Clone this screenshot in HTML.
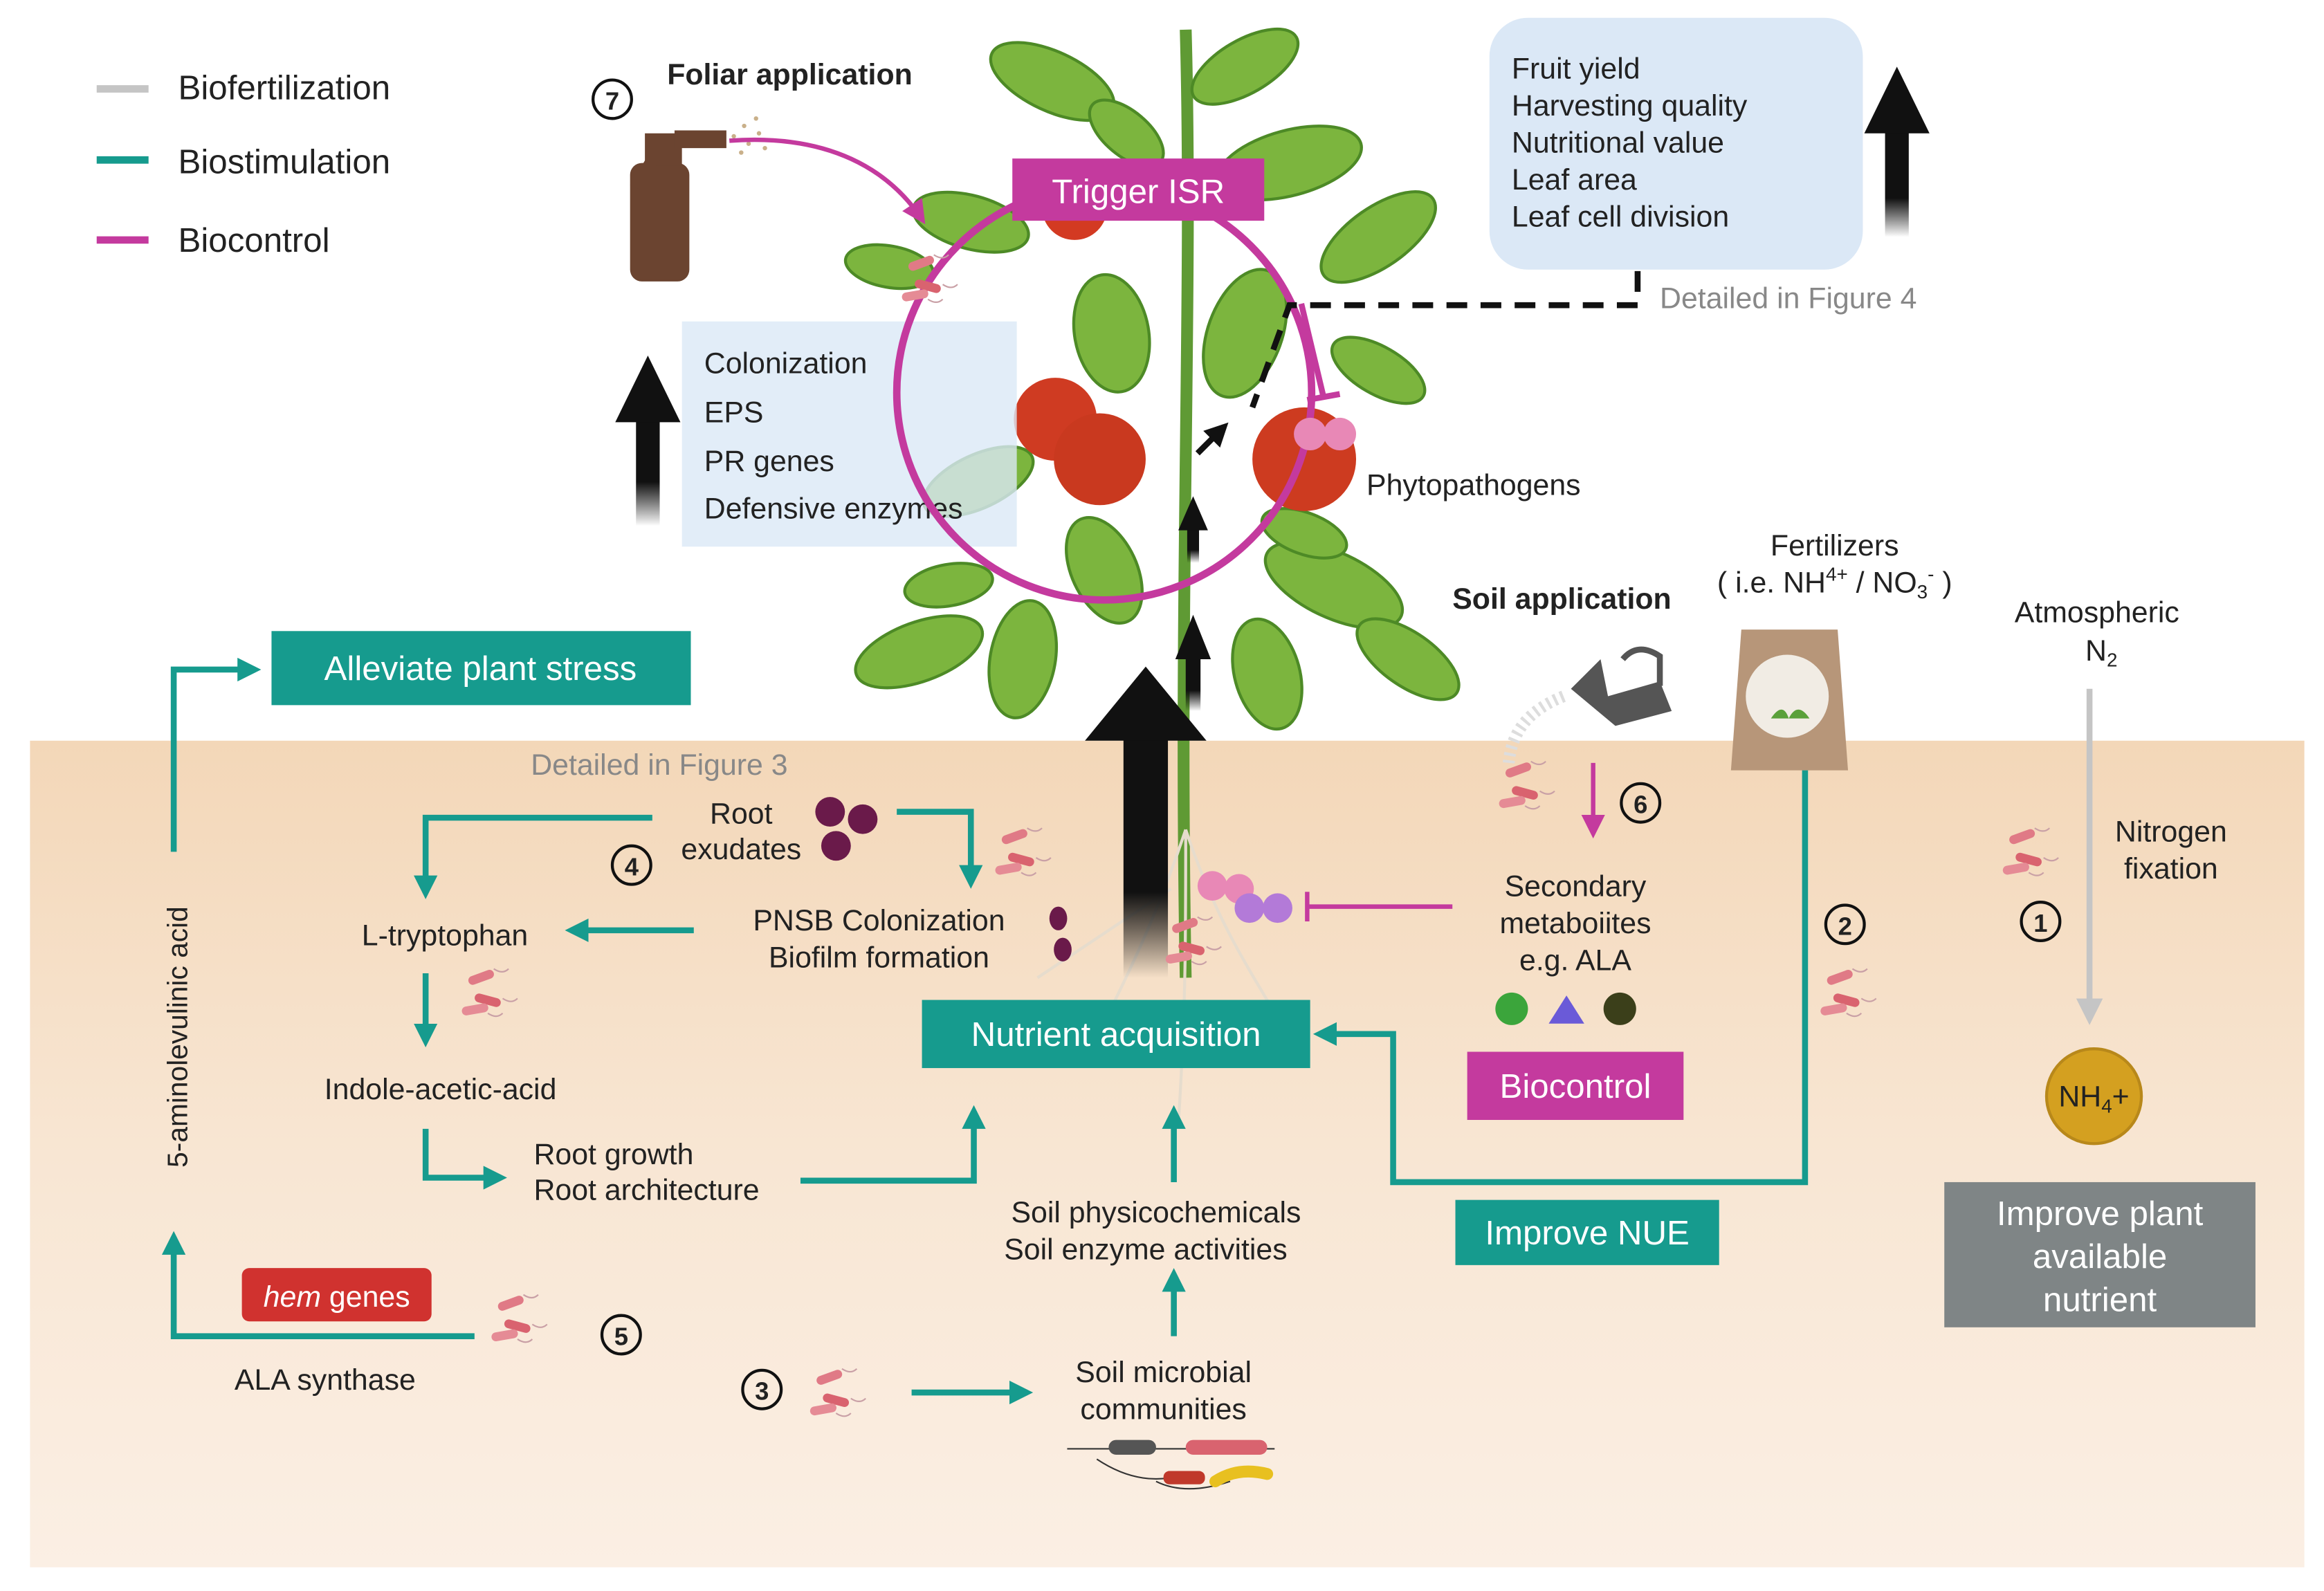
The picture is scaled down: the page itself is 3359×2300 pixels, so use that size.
<!DOCTYPE html>
<html><head><meta charset="utf-8"><style>
html,body{margin:0;padding:0;background:#fff}
svg{display:block}
text{font-family:"Liberation Sans",sans-serif;fill:#222}
</style></head><body>
<svg width="3359" height="2300" viewBox="0 0 1568 1074" xmlns="http://www.w3.org/2000/svg">
<defs>
<linearGradient id="soil" x1="0" y1="0" x2="0" y2="1">
<stop offset="0" stop-color="#f3d7b8"/><stop offset="0.5" stop-color="#f8e6d3"/><stop offset="1" stop-color="#fbefe4"/></linearGradient>
<linearGradient id="blk" x1="0" y1="1" x2="0" y2="0">
<stop offset="0" stop-color="#000" stop-opacity="0"/><stop offset="0.35" stop-color="#111"/><stop offset="1" stop-color="#111"/></linearGradient>
<marker id="tb" markerWidth="16" markerHeight="16" refX="12" refY="8" orient="auto" markerUnits="userSpaceOnUse"><path d="M0,0 L16,8 L0,16 z" fill="#169b8e"/></marker>
<marker id="ma" markerWidth="16" markerHeight="16" refX="12" refY="8" orient="auto" markerUnits="userSpaceOnUse"><path d="M0,0 L16,8 L0,16 z" fill="#c43a9e"/></marker>
<marker id="ga" markerWidth="18" markerHeight="18" refX="14" refY="9" orient="auto" markerUnits="userSpaceOnUse"><path d="M0,0 L18,9 L0,18 z" fill="#c5c5c5"/></marker>
<marker id="ka" markerWidth="16" markerHeight="16" refX="12" refY="8" orient="auto" markerUnits="userSpaceOnUse"><path d="M0,0 L16,8 L0,16 z" fill="#111"/></marker>
<g id="bac"><rect x="0" y="0" width="18" height="6" rx="3" fill="#e07a86" transform="rotate(-20)"/><rect x="6" y="10" width="18" height="6" rx="3" fill="#d9636f" transform="rotate(15 6 10)"/><rect x="-4" y="20" width="18" height="6" rx="3" fill="#e58b95" transform="rotate(-10 -4 20)"/><path d="M18,-6 q6,4 10,0 M24,14 q6,4 10,0 M14,24 q6,4 10,0" stroke="#c9a0a6" fill="none" stroke-width="1"/></g>
</defs>

<rect x="20" y="500" width="1535" height="558" fill="url(#soil)"/>

<line x1="65" y1="60" x2="100" y2="60" stroke="#c5c5c5" stroke-width="5"/>
<text x="120" y="67" font-size="23">Biofertilization</text>
<line x1="65" y1="108" x2="100" y2="108" stroke="#169b8e" stroke-width="5"/>
<text x="120" y="117" font-size="23">Biostimulation</text>
<line x1="65" y1="162" x2="100" y2="162" stroke="#c43a9e" stroke-width="5"/>
<text x="120" y="170" font-size="23">Biocontrol</text>

<g>
<path d="M800,20 C805,200 795,400 800,660" stroke="#5f9a34" stroke-width="8" fill="none"/>
<g fill="#7cb53e" stroke="#4d8a26" stroke-width="2">
<ellipse cx="710" cy="55" rx="45" ry="20" transform="rotate(25 710 55)"/>
<ellipse cx="760" cy="90" rx="30" ry="15" transform="rotate(40 760 90)"/>
<ellipse cx="840" cy="45" rx="40" ry="18" transform="rotate(-30 840 45)"/>
<ellipse cx="870" cy="110" rx="50" ry="22" transform="rotate(-15 870 110)"/>
<ellipse cx="655" cy="150" rx="40" ry="18" transform="rotate(15 655 150)"/>
<ellipse cx="600" cy="180" rx="30" ry="14" transform="rotate(10 600 180)"/>
<ellipse cx="930" cy="160" rx="45" ry="20" transform="rotate(-35 930 160)"/>
<ellipse cx="750" cy="225" rx="25" ry="40" transform="rotate(-10 750 225)"/>
<ellipse cx="840" cy="225" rx="25" ry="45" transform="rotate(20 840 225)"/>
<ellipse cx="660" cy="325" rx="40" ry="18" transform="rotate(-25 660 325)"/>
<ellipse cx="620" cy="440" rx="45" ry="20" transform="rotate(-20 620 440)"/>
<ellipse cx="690" cy="445" rx="22" ry="40" transform="rotate(10 690 445)"/>
<ellipse cx="900" cy="395" rx="50" ry="22" transform="rotate(25 900 395)"/>
<ellipse cx="950" cy="445" rx="40" ry="18" transform="rotate(35 950 445)"/>
<ellipse cx="855" cy="455" rx="22" ry="38" transform="rotate(-15 855 455)"/>
<ellipse cx="745" cy="385" rx="22" ry="38" transform="rotate(-25 745 385)"/>
<ellipse cx="930" cy="250" rx="35" ry="16" transform="rotate(30 930 250)"/>
<ellipse cx="640" cy="395" rx="30" ry="14" transform="rotate(-10 640 395)"/>
<ellipse cx="880" cy="360" rx="30" ry="14" transform="rotate(20 880 360)"/>
</g>
<circle cx="725" cy="140" r="22" fill="#d33a22"/>
<circle cx="712" cy="283" r="28" fill="#cf3b22"/>
<circle cx="742" cy="310" r="31" fill="#c9391f"/>
<circle cx="880" cy="310" r="35" fill="#cd3b20"/>
<g stroke="#e6dccd" stroke-width="2" fill="none">
<path d="M800,560 C780,620 760,660 740,700 M800,560 C820,620 840,650 870,700 M800,560 C800,640 800,680 795,760 M790,600 C760,620 730,640 700,660"/>
</g>
</g>

<rect x="460" y="217" width="226" height="152" fill="#dbe8f6" opacity="0.8"/>
<text x="475" y="252" font-size="20" fill="#444">Colonization</text>
<text x="475" y="285" font-size="20" fill="#444">EPS</text>
<text x="475" y="318" font-size="20" fill="#444">PR genes</text>
<text x="475" y="350" font-size="20" fill="#444">Defensive enzymes</text>

<circle cx="745" cy="265" r="140" fill="none" stroke="#c43a9e" stroke-width="5"/>
<line x1="878" y1="205" x2="893" y2="268" stroke="#c43a9e" stroke-width="4"/>
<line x1="882" y1="270" x2="904" y2="266" stroke="#c43a9e" stroke-width="4"/>
<circle cx="884" cy="293" r="11" fill="#e888b6"/><circle cx="904" cy="293" r="11" fill="#e888b6"/>
<rect x="683" y="107" width="170" height="42" fill="#c43a9e"/>
<text x="768" y="137" font-size="23" text-anchor="middle" style="fill:#fff">Trigger ISR</text>
<text x="922" y="334" font-size="20">Phytopathogens</text>

<rect x="429" y="270" width="16" height="85" fill="url(#blk)"/>
<path d="M415,285 L437,240 L459,285 z" fill="#111"/>
<rect x="1272" y="85" width="16" height="75" fill="url(#blk)"/>
<path d="M1258,90 L1280,45 L1302,90 z" fill="#111"/>
<rect x="758" y="495" width="30" height="165" fill="url(#blk)"/>
<path d="M732,500 L773,450 L814,500 z" fill="#111"/>
<rect x="800" y="440" width="10" height="40" fill="url(#blk)"/>
<path d="M793,445 L805,415 L817,445 z" fill="#111"/>
<rect x="801" y="355" width="8" height="25" fill="url(#blk)"/>
<path d="M795,358 L805,335 L815,358 z" fill="#111"/>
<line x1="808" y1="306" x2="826" y2="288" stroke="#111" stroke-width="4" marker-end="url(#ka)"/>

<path d="M1105,183 L1105,206 L870,206 L845,275" fill="none" stroke="#111" stroke-width="4" stroke-dasharray="14,9"/>
<text x="1120" y="208" font-size="20" style="fill:#888">Detailed in Figure 4</text>

<rect x="1005" y="12" width="252" height="170" rx="26" fill="#dbe8f6"/>
<g font-size="20" fill="#333">
<text x="1020" y="53">Fruit yield</text><text x="1020" y="78">Harvesting quality</text><text x="1020" y="103">Nutritional value</text><text x="1020" y="128">Leaf area</text><text x="1020" y="153">Leaf cell division</text>
</g>

<circle cx="413" cy="67" r="13" fill="none" stroke="#111" stroke-width="2"/><text x="413" y="74" font-size="17" text-anchor="middle" font-weight="bold">7</text>
<text x="450" y="57" font-size="20" font-weight="bold">Foliar application</text>
<g fill="#6b4430">
<rect x="425" y="110" width="40" height="80" rx="8"/>
<rect x="435" y="90" width="25" height="22"/>
<path d="M455,88 L490,88 L490,100 L455,100 z"/>
<path d="M440,100 L425,125 L432,128 L445,108 z"/>
</g>
<g fill="#c9b08a"><circle cx="495" cy="92" r="1.5"/><circle cx="502" cy="85" r="1.5"/><circle cx="505" cy="97" r="1.5"/><circle cx="512" cy="90" r="1.5"/><circle cx="510" cy="80" r="1.5"/><circle cx="516" cy="100" r="1.5"/><circle cx="500" cy="103" r="1.5"/></g>
<path d="M492,95 C560,90 600,115 622,148" fill="none" stroke="#c43a9e" stroke-width="3" marker-end="url(#ma)"/>
<use href="#bac" x="612" y="178"/>

<text x="980" y="411" font-size="20" font-weight="bold">Soil application</text>
<text x="1238" y="375" font-size="20" text-anchor="middle">Fertilizers</text>
<text x="1238" y="400" font-size="20" text-anchor="middle">( i.e. NH<tspan font-size="13" dy="-8">4+</tspan><tspan dy="8"> / NO</tspan><tspan font-size="13" dy="4">3</tspan><tspan font-size="13" dy="-12">-</tspan><tspan dy="8"> )</tspan></text>
<path d="M1060,465 L1080,445 L1085,470 L1120,460 L1128,480 L1090,490 z" fill="#555"/>
<path d="M1095,445 q10,-12 25,-2 l0,20" fill="none" stroke="#555" stroke-width="4"/>
<path d="M1055,470 C1030,480 1020,495 1018,515" fill="none" stroke="#ddd" stroke-width="8" stroke-dasharray="2,3"/>
<path d="M1175,425 L1240,425 L1247,520 L1168,520 z" fill="#b79679"/>
<circle cx="1206" cy="470" r="28" fill="#f1ece4"/>
<path d="M1195,485 q8,-12 12,0 q6,-12 14,0" fill="#5aa03a"/>
<use href="#bac" x="1015" y="520"/>
<line x1="1075" y1="515" x2="1075" y2="562" stroke="#c43a9e" stroke-width="3" marker-end="url(#ma)"/>
<circle cx="1107" cy="542" r="13" fill="none" stroke="#111" stroke-width="2"/><text x="1107" y="549" font-size="17" text-anchor="middle" font-weight="bold">6</text>
<g font-size="20" text-anchor="middle"><text x="1063" y="605">Secondary</text><text x="1063" y="630">metaboiites</text><text x="1063" y="655">e.g. ALA</text></g>
<circle cx="1020" cy="681" r="11" fill="#3ba53b"/><path d="M1045,691 L1057,672 L1069,691 z" fill="#6a5ad8"/><circle cx="1093" cy="681" r="11" fill="#3b3f1a"/>
<rect x="990" y="710" width="146" height="46" fill="#c43a9e"/>
<text x="1063" y="741" font-size="23" text-anchor="middle" style="fill:#fff">Biocontrol</text>
<line x1="980" y1="612" x2="882" y2="612" stroke="#c43a9e" stroke-width="3"/><line x1="882" y1="602" x2="882" y2="622" stroke="#c43a9e" stroke-width="3"/>
<g><circle cx="818" cy="598" r="10" fill="#e888b6"/><circle cx="836" cy="600" r="10" fill="#e888b6"/><circle cx="843" cy="613" r="10" fill="#b37ad8"/><circle cx="862" cy="613" r="10" fill="#b37ad8"/></g>
<use href="#bac" x="790" y="625"/>

<text x="1415" y="420" font-size="20" text-anchor="middle">Atmospheric</text>
<text x="1418" y="446" font-size="20" text-anchor="middle">N<tspan font-size="13" dy="4">2</tspan></text>
<line x1="1410" y1="465" x2="1410" y2="688" stroke="#c5c5c5" stroke-width="4" marker-end="url(#ga)"/>
<text x="1465" y="568" font-size="20" text-anchor="middle">Nitrogen</text>
<text x="1465" y="593" font-size="20" text-anchor="middle">fixation</text>
<use href="#bac" x="1355" y="565"/>
<circle cx="1377" cy="622" r="13" fill="none" stroke="#111" stroke-width="2"/><text x="1377" y="629" font-size="17" text-anchor="middle" font-weight="bold">1</text>
<circle cx="1413" cy="740" r="32" fill="#d4a020" stroke="#b8881a" stroke-width="2"/>
<text x="1413" y="747" font-size="20" text-anchor="middle">NH<tspan font-size="13" dy="4">4</tspan><tspan dy="-4">+</tspan></text>
<rect x="1312" y="798" width="210" height="98" fill="#7f8586"/>
<g font-size="23" text-anchor="middle"><text x="1417" y="827" style="fill:#fff">Improve plant</text><text x="1417" y="856" style="fill:#fff">available</text><text x="1417" y="885" style="fill:#fff">nutrient</text></g>

<circle cx="1245" cy="624" r="13" fill="none" stroke="#111" stroke-width="2"/><text x="1245" y="631" font-size="17" text-anchor="middle" font-weight="bold">2</text>
<use href="#bac" x="1232" y="660"/>
<path d="M1218,520 L1218,798 L940,798 L940,698 L890,698" fill="none" stroke="#169b8e" stroke-width="4" marker-end="url(#tb)"/>
<rect x="982" y="810" width="178" height="44" fill="#169b8e"/>
<text x="1071" y="840" font-size="23" text-anchor="middle" style="fill:#fff">Improve NUE</text>
<rect x="622" y="675" width="262" height="46" fill="#169b8e"/>
<text x="753" y="706" font-size="23" text-anchor="middle" style="fill:#fff">Nutrient acquisition</text>

<rect x="183" y="426" width="283" height="50" fill="#169b8e"/>
<text x="324" y="459" font-size="23" text-anchor="middle" style="fill:#fff">Alleviate plant stress</text>
<path d="M117,575 L117,452 L172,452" fill="none" stroke="#169b8e" stroke-width="4" marker-end="url(#tb)"/>
<text transform="translate(126,700) rotate(-90)" font-size="19" text-anchor="middle">5-aminolevulinic acid</text>
<path d="M320,902 L117,902 L117,835" fill="none" stroke="#169b8e" stroke-width="4" marker-end="url(#tb)"/>
<rect x="163" y="856" width="128" height="36" rx="5" fill="#d0322f"/>
<text x="227" y="882" font-size="20" text-anchor="middle" style="fill:#fff"><tspan font-style="italic">hem</tspan> genes</text>
<use href="#bac" x="335" y="880"/>
<text x="158" y="938" font-size="20">ALA synthase</text>
<circle cx="419" cy="901" r="13" fill="none" stroke="#111" stroke-width="2"/><text x="419" y="908" font-size="17" text-anchor="middle" font-weight="bold">5</text>

<text x="358" y="523" font-size="20" style="fill:#888">Detailed in Figure 3</text>
<text x="500" y="556" font-size="20" text-anchor="middle">Root</text>
<text x="500" y="580" font-size="20" text-anchor="middle">exudates</text>
<circle cx="560" cy="548" r="10" fill="#6a1a4a"/><circle cx="582" cy="553" r="10" fill="#6a1a4a"/><circle cx="564" cy="571" r="10" fill="#6a1a4a"/>
<circle cx="426" cy="584" r="13" fill="none" stroke="#111" stroke-width="2"/><text x="426" y="591" font-size="17" text-anchor="middle" font-weight="bold">4</text>
<path d="M440,552 L287,552 L287,603" fill="none" stroke="#169b8e" stroke-width="4" marker-end="url(#tb)"/>
<path d="M605,548 L655,548 L655,596" fill="none" stroke="#169b8e" stroke-width="4" marker-end="url(#tb)"/>
<use href="#bac" x="675" y="565"/>
<text x="593" y="628" font-size="20" text-anchor="middle">PNSB Colonization</text>
<text x="593" y="653" font-size="20" text-anchor="middle">Biofilm formation</text>
<ellipse cx="714" cy="620" rx="6" ry="8" fill="#6a1a4a"/><ellipse cx="717" cy="641" rx="6" ry="8" fill="#6a1a4a"/>
<line x1="468" y1="628" x2="385" y2="628" stroke="#169b8e" stroke-width="4" marker-end="url(#tb)"/>
<text x="300" y="638" font-size="20" text-anchor="middle">L-tryptophan</text>
<line x1="287" y1="657" x2="287" y2="703" stroke="#169b8e" stroke-width="4" marker-end="url(#tb)"/>
<use href="#bac" x="315" y="660"/>
<text x="297" y="742" font-size="20" text-anchor="middle">Indole-acetic-acid</text>
<path d="M287,762 L287,795 L338,795" fill="none" stroke="#169b8e" stroke-width="4" marker-end="url(#tb)"/>
<text x="360" y="786" font-size="20">Root growth</text>
<text x="360" y="810" font-size="20">Root architecture</text>
<path d="M540,797 L657,797 L657,750" fill="none" stroke="#169b8e" stroke-width="4" marker-end="url(#tb)"/>
<line x1="792" y1="798" x2="792" y2="750" stroke="#169b8e" stroke-width="4" marker-end="url(#tb)"/>
<text x="780" y="825" font-size="20" text-anchor="middle">Soil  physicochemicals</text>
<text x="773" y="850" font-size="20" text-anchor="middle">Soil enzyme activities</text>
<line x1="792" y1="902" x2="792" y2="860" stroke="#169b8e" stroke-width="4" marker-end="url(#tb)"/>
<text x="785" y="933" font-size="20" text-anchor="middle">Soil microbial</text>
<text x="785" y="958" font-size="20" text-anchor="middle">communities</text>
<circle cx="514" cy="938" r="13" fill="none" stroke="#111" stroke-width="2"/><text x="514" y="945" font-size="17" text-anchor="middle" font-weight="bold">3</text>
<use href="#bac" x="550" y="930"/>
<line x1="615" y1="940" x2="693" y2="940" stroke="#169b8e" stroke-width="4" marker-end="url(#tb)"/>
<g>
<path d="M720,978 L860,978 M740,985 q30,20 60,10 M780,1000 q20,10 50,0" stroke="#333" stroke-width="1" fill="none"/>
<rect x="748" y="972" width="32" height="10" rx="5" fill="#555"/>
<rect x="800" y="972" width="55" height="10" rx="5" fill="#d9636f"/>
<rect x="785" y="993" width="28" height="9" rx="4" fill="#c0392b"/>
<path d="M820,1000 q15,-10 35,-5" stroke="#e8c020" stroke-width="8" fill="none" stroke-linecap="round"/>
</g>
</svg>
</body></html>
